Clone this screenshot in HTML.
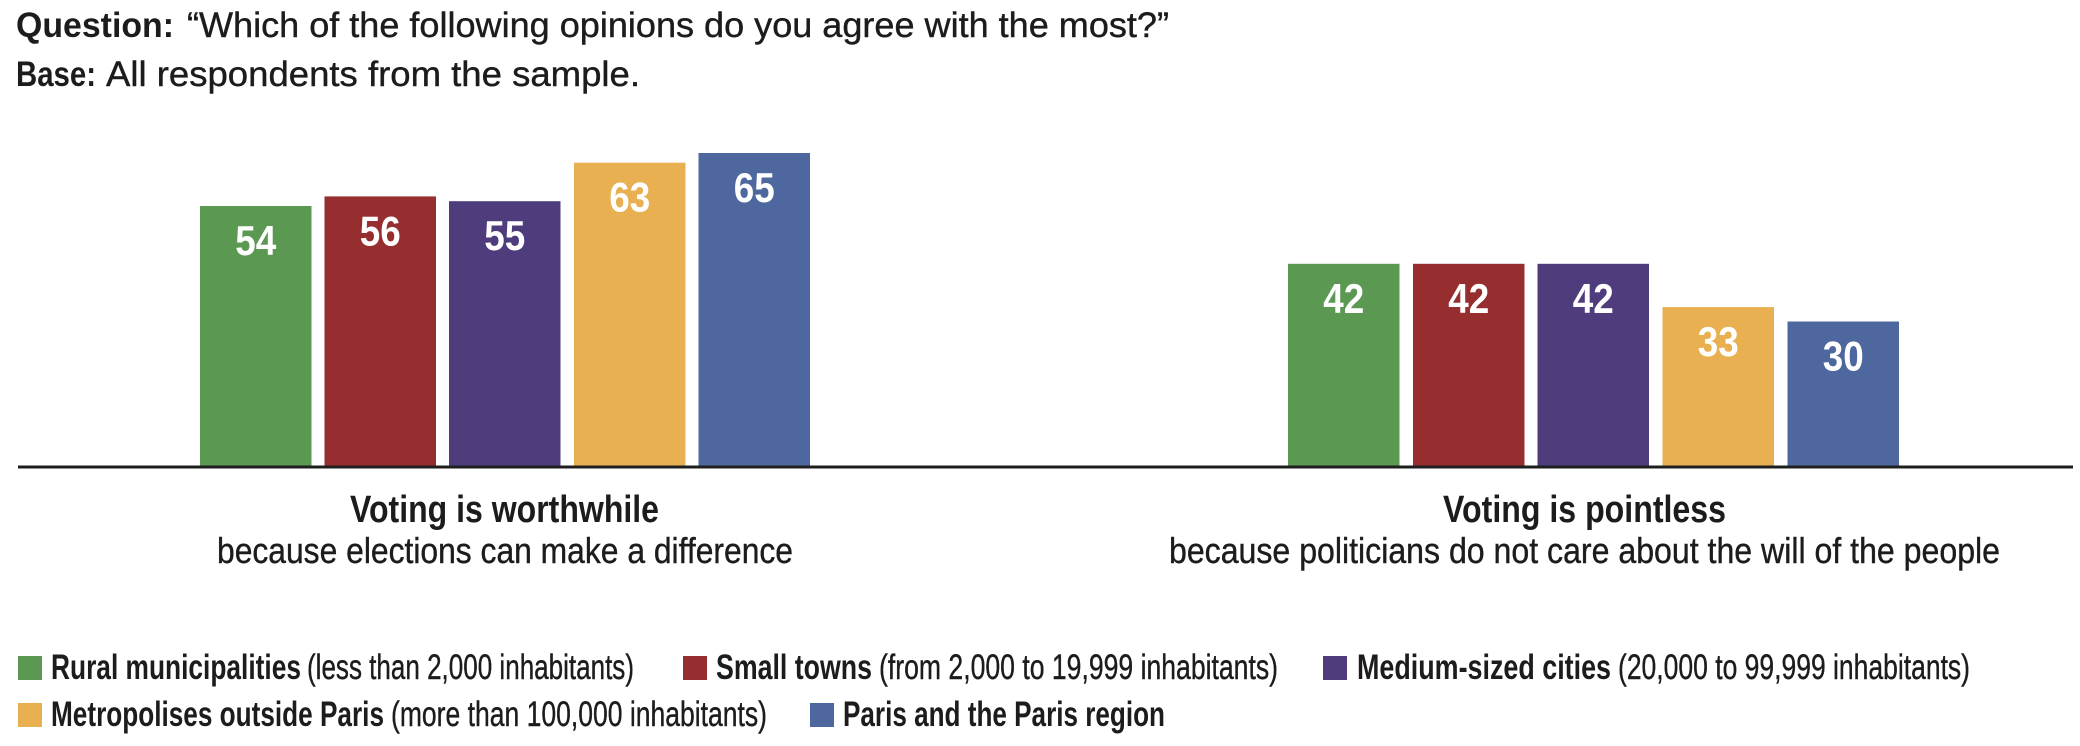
<!DOCTYPE html>
<html>
<head>
<meta charset="utf-8">
<style>
  html, body { margin: 0; padding: 0; background: #ffffff; }
  svg { display: block; }
  text { font-family: "Liberation Sans", Arial, sans-serif; fill: #1c1c1c; }
  .r { stroke: #1c1c1c; stroke-width: 0.4; }
  .b { font-weight: bold; }
  .num { font-weight: bold; fill: #ffffff; font-size: 42px; }
</style>
</head>
<body>
<svg width="2080" height="746" viewBox="0 0 2080 746" xmlns="http://www.w3.org/2000/svg">
  <rect x="0" y="0" width="2080" height="746" fill="#ffffff"/>

  <!-- Title -->
  <text x="16" y="37" class="b" font-size="35" textLength="158" lengthAdjust="spacingAndGlyphs">Question:</text>
  <text x="187" y="37" class="r" font-size="35" textLength="982" lengthAdjust="spacingAndGlyphs">“Which of the following opinions do you agree with the most?”</text>
  <text x="16" y="86" class="b" font-size="35" textLength="80" lengthAdjust="spacingAndGlyphs">Base:</text>
  <text x="106" y="86" class="r" font-size="35" textLength="534" lengthAdjust="spacingAndGlyphs">All respondents from the sample.</text>

  <!-- Group 1 bars -->
  <rect x="200" y="206" width="111.5" height="260" fill="#5b9852"/>
  <rect x="324.5" y="196.4" width="111.5" height="269.6" fill="#962e2f"/>
  <rect x="449" y="201.2" width="111.5" height="264.8" fill="#4e3c7d"/>
  <rect x="574" y="162.7" width="111.5" height="303.3" fill="#e8b050"/>
  <rect x="698.5" y="153" width="111.5" height="313" fill="#4e689f"/>

  <text class="num" x="255.7" y="255" text-anchor="middle" textLength="41" lengthAdjust="spacingAndGlyphs">54</text>
  <text class="num" x="380.2" y="245.4" text-anchor="middle" textLength="41" lengthAdjust="spacingAndGlyphs">56</text>
  <text class="num" x="504.7" y="250.2" text-anchor="middle" textLength="41" lengthAdjust="spacingAndGlyphs">55</text>
  <text class="num" x="629.7" y="211.7" text-anchor="middle" textLength="41" lengthAdjust="spacingAndGlyphs">63</text>
  <text class="num" x="754.2" y="202" text-anchor="middle" textLength="41" lengthAdjust="spacingAndGlyphs">65</text>

  <!-- Group 2 bars -->
  <rect x="1288" y="263.8" width="111.5" height="202.2" fill="#5b9852"/>
  <rect x="1413" y="263.8" width="111.5" height="202.2" fill="#962e2f"/>
  <rect x="1537.5" y="263.8" width="111.5" height="202.2" fill="#4e3c7d"/>
  <rect x="1662.5" y="307.1" width="111.5" height="158.9" fill="#e8b050"/>
  <rect x="1787.5" y="321.5" width="111.5" height="144.5" fill="#4e689f"/>

  <text class="num" x="1343.7" y="312.8" text-anchor="middle" textLength="41" lengthAdjust="spacingAndGlyphs">42</text>
  <text class="num" x="1468.7" y="312.8" text-anchor="middle" textLength="41" lengthAdjust="spacingAndGlyphs">42</text>
  <text class="num" x="1593.2" y="312.8" text-anchor="middle" textLength="41" lengthAdjust="spacingAndGlyphs">42</text>
  <text class="num" x="1718.2" y="356.1" text-anchor="middle" textLength="41" lengthAdjust="spacingAndGlyphs">33</text>
  <text class="num" x="1843.2" y="370.5" text-anchor="middle" textLength="41" lengthAdjust="spacingAndGlyphs">30</text>

  <!-- Baseline -->
  <rect x="18" y="465.5" width="2055" height="3" fill="#1f1f1f"/>

  <!-- Category labels -->
  <text x="350" y="522" class="b" font-size="38" textLength="309" lengthAdjust="spacingAndGlyphs">Voting is worthwhile</text>
  <text x="217" y="563" class="r" font-size="36" textLength="576" lengthAdjust="spacingAndGlyphs">because elections can make a difference</text>

  <text x="1443" y="522" class="b" font-size="38" textLength="283" lengthAdjust="spacingAndGlyphs">Voting is pointless</text>
  <text x="1169" y="563" class="r" font-size="36" textLength="831" lengthAdjust="spacingAndGlyphs">because politicians do not care about the will of the people</text>

  <!-- Legend row 1 -->
  <rect x="18" y="656" width="24" height="24" fill="#5b9852"/>
  <text x="51" y="679" class="b" font-size="35" textLength="250" lengthAdjust="spacingAndGlyphs">Rural municipalities</text>
  <text x="307" y="679" class="r" font-size="35" textLength="327" lengthAdjust="spacingAndGlyphs">(less than 2,000 inhabitants)</text>

  <rect x="683" y="656" width="24" height="24" fill="#962e2f"/>
  <text x="716" y="679" class="b" font-size="35" textLength="156" lengthAdjust="spacingAndGlyphs">Small towns</text>
  <text x="879" y="679" class="r" font-size="35" textLength="399" lengthAdjust="spacingAndGlyphs">(from 2,000 to 19,999 inhabitants)</text>

  <rect x="1323" y="656" width="24" height="24" fill="#4e3c7d"/>
  <text x="1357" y="679" class="b" font-size="35" textLength="254" lengthAdjust="spacingAndGlyphs">Medium-sized cities</text>
  <text x="1618" y="679" class="r" font-size="35" textLength="352" lengthAdjust="spacingAndGlyphs">(20,000 to 99,999 inhabitants)</text>

  <!-- Legend row 2 -->
  <rect x="18" y="703" width="24" height="24" fill="#e8b050"/>
  <text x="51" y="726" class="b" font-size="35" textLength="333" lengthAdjust="spacingAndGlyphs">Metropolises outside Paris</text>
  <text x="391" y="726" class="r" font-size="35" textLength="376" lengthAdjust="spacingAndGlyphs">(more than 100,000 inhabitants)</text>

  <rect x="810" y="703" width="24" height="24" fill="#4e689f"/>
  <text x="843" y="726" class="b" font-size="35" textLength="322" lengthAdjust="spacingAndGlyphs">Paris and the Paris region</text>
</svg>
</body>
</html>
